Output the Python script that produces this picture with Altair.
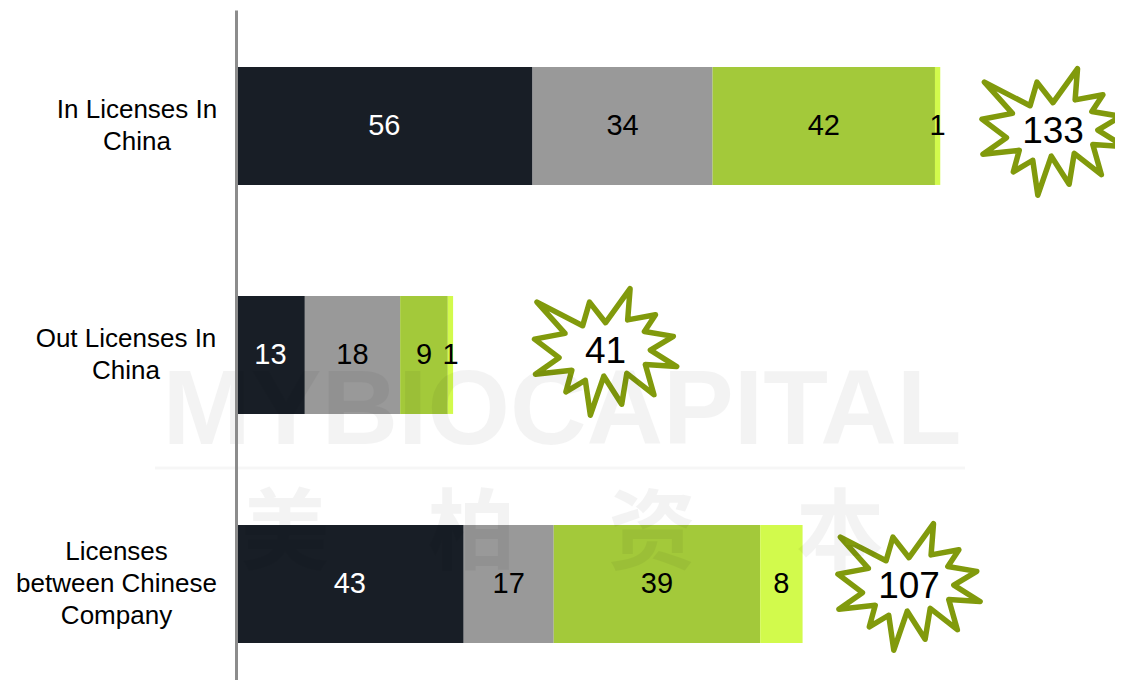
import altair as alt
import pandas as pd

# ---- data ----
categories = ["In Licenses In|China", "Out Licenses In|China", "Licenses|between Chinese|Company"]
series = ["S1", "S2", "S3", "S4"]
s1 = [56, 13, 43]
s2 = [34, 18, 17]
s3 = [42, 9, 39]
s4 = [1, 1, 8]
totals = [133, 41, 107]
star_x = [154.3, 69.8, 127.1]  # where the total badge sits along the value axis
star_dy = [6, -3, 3]           # small vertical nudge of each badge from bar centre (px)

series_colors = ["#181E26", "#999999", "#A3C93A", "#D2FA4C"]
label_colors = ["#FFFFFF", "#000000", "#000000", "#000000"]

PAD_INNER = 0.485
HEIGHT = 670
PAD_OUTER = 0.2054
step = HEIGHT / (len(categories) - PAD_INNER + 2 * PAD_OUTER)
half_band = step * (1 - PAD_INNER) / 2

# ---- build tables ----
rows = []
for ci, cat in enumerate(categories):
    start = 0
    for si, vals in enumerate([s1, s2, s3, s4]):
        v = vals[ci]
        rows.append({
            "cat": cat, "series": series[si], "value": v,
            "start": start, "end": start + v, "mid": start + v / 2,
            "lc": label_colors[si],
        })
        start += v
bars_df = pd.DataFrame(rows)
stars_df = pd.DataFrame({
    "cat": categories, "total": totals, "sx": star_x,
    "dy": [half_band + d for d in star_dy],
})

# PowerPoint "explosion 1" outline, normalised to [-1,1] x [-0.89,0.89]
pts = [(10800, 5800), (14522, 0), (14155, 5325), (18380, 4457), (16702, 7315),
       (21097, 8137), (17607, 10475), (21600, 13290), (16837, 12942), (18145, 18095),
       (14020, 14457), (13247, 19737), (10532, 14935), (8485, 21600), (7715, 15627),
       (4762, 17617), (5667, 13937), (135, 14587), (3722, 11775), (0, 8615),
       (4627, 7617), (370, 2295), (7312, 6320), (8352, 2295)]
aspect = 0.89
path = "M" + " L".join(f"{x / 10800 - 1:.4f},{(y / 10800 - 1) * aspect:.4f}" for x, y in pts) + " Z"

# multi-line labels: shift block up so it is centred on the bar,
# and centre each block at its own distance from the axis
def is_cat(i):
    return f"datum.value === '{categories[i]}'"

label_offset = {"condition": {"test": is_cat(2), "value": -32}, "value": -16}
label_padding = {
    "condition": [
        {"test": is_cat(0), "value": 99.5},
        {"test": is_cat(1), "value": 110.5},
    ],
    "value": 120,
}

y_enc = alt.Y(
    "cat:N", sort=categories,
    scale=alt.Scale(paddingInner=PAD_INNER, paddingOuter=PAD_OUTER, align=0.606),
    axis=alt.Axis(
        title=None, labelExpr="split(datum.label, '|')",
        labelFont="Liberation Sans", labelFontSize=26, labelColor="#000000",
        labelAlign="center", labelBaseline="middle",
        labelPadding=label_padding, labelOffset=label_offset,
        labelLineHeight=32, labelLimit=0, ticks=False, tickSize=0,
        domainColor="#8C8C8C", domainWidth=3, grid=False, zindex=1,
    ),
)
x_scale = alt.Scale(domain=[0, 166], nice=False, zero=True)

bars = alt.Chart(bars_df).mark_bar(strokeWidth=0).encode(
    y=y_enc,
    x=alt.X("start:Q", scale=x_scale, axis=None),
    x2="end:Q",
    color=alt.Color("series:N", scale=alt.Scale(domain=series, range=series_colors), legend=None),
)

bar_labels = alt.Chart(bars_df).mark_text(
    font="Liberation Sans", fontSize=29, align="center", baseline="middle"
).encode(
    y=alt.Y("cat:N", sort=categories),
    x=alt.X("mid:Q", scale=x_scale, axis=None),
    text="value:Q",
    color=alt.Color("lc:N", scale=None),
)

stars = alt.Chart(stars_df).mark_point(
    shape=path, size=20200, filled=True, fill="white", fillOpacity=1,
    stroke="#819A0C", strokeWidth=5.5, strokeJoin="round", strokeOpacity=1, opacity=1,
).encode(
    y=alt.Y("cat:N", sort=categories),
    yOffset=alt.YOffset("dy:Q", scale=None),
    x=alt.X("sx:Q", scale=x_scale, axis=None),
)

star_text = alt.Chart(stars_df).mark_text(
    font="Liberation Sans", fontSize=37, align="center", baseline="middle", color="#000000"
).encode(
    y=alt.Y("cat:N", sort=categories),
    yOffset=alt.YOffset("dy:Q", scale=None),
    x=alt.X("sx:Q", scale=x_scale, axis=None),
    text="total:Q",
)

# faint watermark
wm_df = pd.DataFrame({"t": ["MYBIOCAPITAL"]})
wm_text = alt.Chart(wm_df).mark_text(
    font="Liberation Sans", fontWeight="bold", fontSize=106, align="center",
    baseline="alphabetic", color="#000000", opacity=0.045,
).encode(x=alt.value(326), y=alt.value(434), text="t:N")

wm_line = alt.Chart(wm_df).mark_rule(color="#000000", opacity=0.035, strokeWidth=3).encode(
    x=alt.value(-81), x2=alt.value(729), y=alt.value(458)
)

cjk_df = pd.DataFrame({"t": ["美", "柏", "资", "本"], "px": [49, 236, 416, 604]})
wm_cjk = alt.Chart(cjk_df).mark_text(
    font="Noto Sans CJK SC", fontWeight="bold", fontSize=88, align="center",
    baseline="middle", color="#000000", opacity=0.045,
).encode(x=alt.X("px:Q", scale=None), y=alt.value(526), text="t:N")

chart = alt.layer(bars, bar_labels, stars, star_text, wm_text, wm_line, wm_cjk).properties(
    width=879, height=HEIGHT,
    padding={"left": 228, "top": 2, "right": 0, "bottom": 0},
    autosize=alt.AutoSizeParams(type="none"),
    background="white",
).configure_view(stroke=None)

chart.save("out.html", embed_options={"renderer": "svg", "actions": False})
